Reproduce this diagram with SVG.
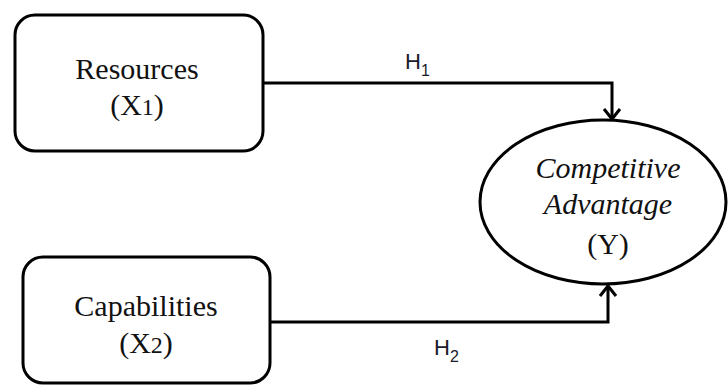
<svg xmlns="http://www.w3.org/2000/svg" width="728" height="385" viewBox="0 0 728 385">
<style>
.box{fill:#fff;stroke:#000;stroke-width:3}
.lbl{font-family:"Liberation Serif",serif;font-size:30px;fill:#111;text-anchor:middle}
.it{font-style:italic}
.h{font-family:"Liberation Sans",sans-serif;font-size:22px;fill:#1a1a2a}
.con{fill:none;stroke:#000;stroke-width:3}
</style>
<defs>
<marker id="arr" markerUnits="userSpaceOnUse" markerWidth="24" markerHeight="24" viewBox="-12 -12 24 24" refX="0" refY="0" orient="auto" overflow="visible">
<path d="M-10,-8 L0,0 L-10,8" fill="none" stroke="#000" stroke-width="3"/>
</marker>
</defs>
<rect width="728" height="385" fill="#fff"/>
<g id="connectors">
<path class="con" d="M263,83 H612 V119" marker-end="url(#arr)"/>
<path class="con" d="M270,322 H608 V286" marker-end="url(#arr)"/>
<text class="h" x="405" y="69">H<tspan font-size="16" dy="7">1</tspan></text>
<text class="h" x="434" y="355">H<tspan font-size="16" dy="7">2</tspan></text>
</g>
<g id="resources">
<rect class="box" x="15" y="15" width="248" height="136" rx="20"/>
<text class="lbl" x="137" y="79">Resources</text>
<text class="lbl" x="137" y="115">(X<tspan font-size="24">1</tspan>)</text>
</g>
<g id="capabilities">
<rect class="box" x="23" y="257" width="247" height="126" rx="20"/>
<text class="lbl" x="146" y="316">Capabilities</text>
<text class="lbl" x="146" y="353">(X<tspan font-size="24">2</tspan>)</text>
</g>
<g id="competitive">
<ellipse class="box" cx="603" cy="202" rx="123" ry="82"/>
<text class="lbl it" x="608" y="178">Competitive</text>
<text class="lbl it" x="608" y="214">Advantage</text>
<text class="lbl" x="608" y="254">(Y)</text>
</g>
</svg>
